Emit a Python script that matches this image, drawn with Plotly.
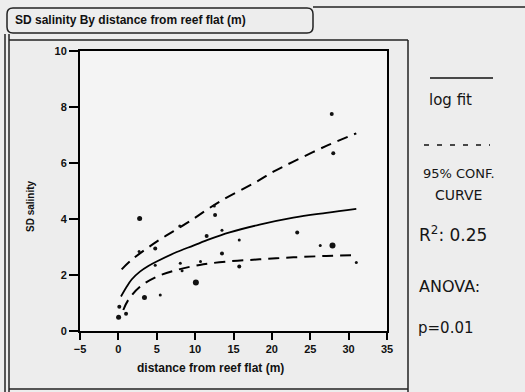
import plotly.graph_objects as go

# ---- data ----
pt_x = [0.03, 0.12, 1.0, 2.77, 3.4, 5.46, 10.1, 4.8, 4.8, 2.7, 8.07, 8.3, 10.7, 11.5,
        13.5, 12.6, 12.5, 13.5, 15.75, 15.75, 23.3, 27.9, 26.3, 31.0, 27.8, 28.0, 8.0]
pt_y = [0.49, 0.87, 0.62, 4.02, 1.2, 1.29, 1.73, 2.95, 2.35, 2.84, 2.42, 2.15, 2.48, 3.39,
        2.77, 4.14, 4.46, 3.6, 3.25, 2.3, 3.52, 3.05, 3.05, 2.45, 7.75, 6.35, 3.75]
pt_size = [5, 4, 4, 5, 5, 3, 6, 4, 3, 3, 3, 3, 3, 4,
           4, 4, 3, 3, 3, 4, 4, 6, 3, 3, 4, 4, 3]

fit_x = [0.34, 1.08, 1.73, 2.81, 3.9, 4.99, 7.6, 9.76, 11.9, 14.5, 18.4, 22.8, 27.1, 31.0]
fit_y = [1.23, 1.58, 1.84, 2.12, 2.32, 2.48, 2.82, 3.05, 3.28, 3.52, 3.80, 4.05, 4.22, 4.36]

upper_x = [0.43, 1.73, 4.99, 8.9, 13.2, 18.0, 20.2, 22.8, 27.1, 31.0]
upper_y = [2.2, 2.54, 3.19, 3.85, 4.62, 5.33, 5.69, 6.05, 6.61, 7.06]

lower_x = [0.64, 1.29, 2.81, 5.0, 7.6, 10.6, 14.1, 18.4, 22.8, 27.1, 31.0]
lower_y = [0.75, 1.11, 1.58, 1.94, 2.18, 2.36, 2.48, 2.56, 2.63, 2.68, 2.71]

x_ticks = [-5, 0, 5, 10, 15, 20, 25, 30, 35]
y_ticks = [0, 2, 4, 6, 8, 10]

title_text = "SD salinity By distance from reef flat (m)"
x_title = "distance from reef flat (m)"
y_title = "SD salinity"
notes = ["log fit", "95% CONF.", "CURVE", "R<sup>2</sup>: 0.25", "ANOVA:", "p=0.01"]

W, H = 525, 392
L, R, T, B = 80, 387, 51, 331


def px(xp):
    return (xp - L) / (R - L)


def py(yp):
    return (B - yp) / (B - T)


fig = go.Figure()
fig.add_trace(go.Scatter(x=fit_x, y=fit_y, mode="lines", line=dict(color="black", width=1.8, shape="spline"),
                         showlegend=False, hoverinfo="skip"))
for cx, cy in ((upper_x, upper_y), (lower_x, lower_y)):
    fig.add_trace(go.Scatter(x=cx, y=cy, mode="lines",
                             line=dict(color="black", width=2, shape="spline", dash="11px,7px"),
                             showlegend=False, hoverinfo="skip"))
fig.add_trace(go.Scatter(x=pt_x, y=pt_y, mode="markers", opacity=1,
                         marker=dict(color="#111111", size=pt_size, opacity=1, line=dict(width=0)),
                         showlegend=False))

tickfont = dict(family="Liberation Sans", size=11, color="#111111", weight="bold")
fig.update_xaxes(range=[-5, 35], tickvals=x_ticks, ticks="outside", ticklen=7, tickwidth=2,
                 showline=True, linewidth=2, linecolor="black", mirror=True, showgrid=False,
                 zeroline=False, tickfont=tickfont, tickcolor="black")
fig.update_yaxes(range=[0, 10], tickvals=y_ticks, ticks="outside", ticklen=9, tickwidth=2,
                 showline=True, linewidth=2, linecolor="black", mirror=True, showgrid=False,
                 zeroline=False, tickfont=tickfont, tickcolor="black")

shapes = []
# rounded title box
x0, x1, y0, y1, r = px(7), px(313), py(8), py(33), 6
rx, ry = r / (R - L), r / (B - T)
path = (f"M {x0+rx},{y0} L {x1-rx},{y0} Q {x1},{y0} {x1},{y0-ry} L {x1},{y1+ry} "
        f"Q {x1},{y1} {x1-rx},{y1} L {x0+rx},{y1} Q {x0},{y1} {x0},{y1+ry} L {x0},{y0-ry} "
        f"Q {x0},{y0} {x0+rx},{y0} Z")
shapes.append(dict(type="path", path=path, xref="paper", yref="paper",
                   line=dict(color="#222222", width=1.5)))


def seg(xa, ya, xb, yb, w=1.5, c="#222222"):
    shapes.append(dict(type="line", xref="paper", yref="paper", x0=px(xa), y0=py(ya),
                       x1=px(xb), y1=py(yb), line=dict(color=c, width=w)))


seg(313, 7, 525, 7, 1.5)
seg(5, 34, 5, 392, 1.5)
seg(9, 34, 9, 392, 1.5)
seg(9, 40, 408, 40, 1.5)
seg(408, 40, 408, 392, 1.5)
seg(9, 389, 408, 389, 1.5)
# legend samples in the side panel
seg(430, 78, 493, 78, 1.6, "#111111")
shapes.append(dict(type="line", xref="paper", yref="paper", x0=px(424), y0=py(145), x1=px(490), y1=py(145),
                   line=dict(color="#111111", width=1.4, dash="5px,8px")))

ann = []
ann.append(dict(text=title_text, x=px(13), y=py(20), xref="paper", yref="paper", xanchor="left",
                yanchor="middle", showarrow=False,
                font=dict(family="Liberation Sans", size=12, color="#111111", weight="bold")))
ann.append(dict(text=x_title, x=px(210), y=py(368), xref="paper", yref="paper", xanchor="center",
                yanchor="middle", showarrow=False,
                font=dict(family="Liberation Sans", size=12, color="#111111", weight="bold")))
ann.append(dict(text=y_title, x=px(30), y=py(206), xref="paper", yref="paper", xanchor="center",
                yanchor="middle", showarrow=False, textangle=-90,
                font=dict(family="Liberation Sans", size=10, color="#111111", weight="bold")))
note_pos = [(427, 100, 15), (421, 173, 13), (433, 195, 14), (417, 234, 17), (417, 286, 16), (416, 328, 15)]
for t, (xx, yy, fs) in zip(notes, note_pos):
    ann.append(dict(text=t, x=px(xx), y=py(yy), xref="paper", yref="paper", xanchor="left",
                    yanchor="middle", showarrow=False,
                    font=dict(family="DejaVu Sans", size=fs, color="#151515")))

fig.update_layout(width=W, height=H, margin=dict(l=L, r=W - R, t=T, b=H - B),
                  paper_bgcolor="#ededed", plot_bgcolor="#f4f4f4",
                  shapes=shapes, annotations=ann)
fig.write_html("out.html", config={"displayModeBar": False},
               post_script="document.body.style.margin='0';document.body.style.overflow='hidden';")
